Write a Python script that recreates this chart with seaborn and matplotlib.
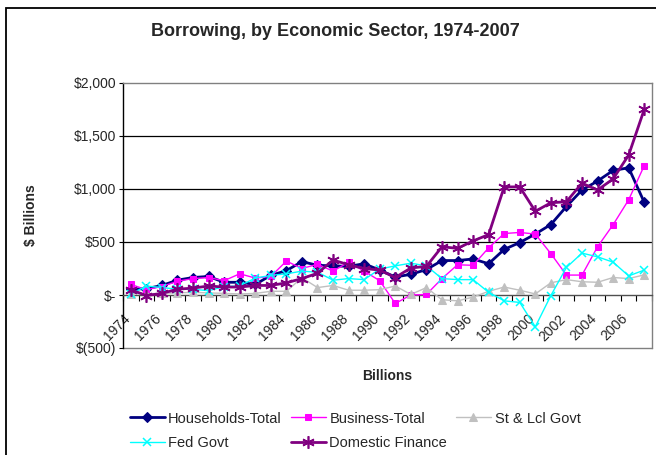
import numpy as np
import matplotlib
matplotlib.use("Agg")
import matplotlib.pyplot as plt
import matplotlib.transforms as mtransforms
from matplotlib.patches import Rectangle
from matplotlib.ticker import FuncFormatter
import seaborn as sns

# Net borrowing by sector, $ billions, 1974-2007
years = list(range(1974, 2008))
households = [55, 60, 90, 140, 165, 175, 120, 120, 100, 185,
              230, 315, 280, 275, 270, 295, 235, 170, 195, 240,
              325, 325, 340, 295, 430, 495, 575, 665, 835, 990,
              1075, 1175, 1200, 875]
business = [100, 50, 80, 130, 155, 165, 135, 200, 160, 175,
            320, 250, 290, 225, 310, 225, 135, -80, 0, 5,
            155, 285, 280, 445, 580, 590, 575, 390, 188, 188,
            455, 663, 898, 1220]
state_local = [12, 12, 15, 20, 25, 20, 15, 10, 15, 35,
               35, 163, 70, 90, 45, 45, 50, 85, 5, 70,
               -45, -55, -20, 35, 75, 45, 10, 115, 145, 125,
               120, 165, 155, 190]
federal = [10, 85, 70, 55, 55, 40, 80, 85, 160, 185,
           200, 225, 215, 140, 155, 145, 245, 275, 300, 275,
           155, 145, 145, 25, -55, -70, -300, -5, 260, 395,
           360, 310, 180, 235]
dom_finance = [50, -5, 15, 55, 65, 85, 75, 75, 90, 90,
               115, 155, 205, 330, 285, 250, 235, 165, 255, 270,
               455, 440, 510, 570, 1020, 1020, 790, 870, 880, 1055,
               990, 1095, 1320, 1750]

y_ticks = [-500, 0, 500, 1000, 1500, 2000]
grid_levels = [500, 1000, 1500]

sns.set_style("white")
plt.rcParams["font.family"] = ["Liberation Sans", "DejaVu Sans"]

fig = plt.figure(figsize=(6.56, 4.55), dpi=100)
fig.patch.set_facecolor("white")
ax = fig.add_axes([123 / 656, 1 - 348 / 455, 529 / 656, 265 / 455])

pos = np.arange(len(years))

for lvl in grid_levels:
    ax.axhline(lvl, color="black", lw=0.9, zorder=0.5)

series = [
    ("Households-Total", households, dict(color="#000080", marker="D", markersize=5.5, lw=2.0)),
    ("Business-Total", business, dict(color="#FF00FF", marker="s", markersize=5, lw=1.0)),
    ("St & Lcl Govt", state_local, dict(color="#C0C0C0", marker="^", markersize=6, lw=1.0)),
    ("Fed Govt", federal, dict(color="#00FFFF", marker="x", markersize=6, markeredgewidth=1.1, lw=1.0)),
    ("Domestic Finance", dom_finance, dict(color="#800080", marker=(6, 2, 0), markersize=9,
                                           markeredgewidth=1.2, lw=2.0)),
]

handles = {}
for name, vals, style in series:
    sns.lineplot(x=pos, y=vals, ax=ax, label=name, markeredgecolor=style["color"],
                 legend=False, zorder=3, clip_on=False, **style)
    handles[name] = ax.get_lines()[-1]

ax.set_xlim(-0.5, len(years) - 0.5)
ax.set_ylim(-500, 2000)
ax.set_yticks(y_ticks)


def money(v, _):
    v = int(round(v))
    if v == 0:
        return "$-"
    if v < 0:
        return "$({:,})".format(-v)
    return "${:,}".format(v)


ax.yaxis.set_major_formatter(FuncFormatter(money))
ax.tick_params(axis="y", direction="out", length=3, width=0.8, pad=2, labelsize=10,
               color="black", left=True)

# Category axis crossing at zero: ticks between categories, labels every other year
ax.spines["bottom"].set_position(("data", 0))
ax.spines["bottom"].set_color("#505050")
ax.spines["bottom"].set_linewidth(1.0)
ax.set_xticks(np.arange(-0.5, len(years), 1))
ax.set_xticklabels([])
ax.set_xticks(pos[::2], minor=True)
ax.set_xticklabels([str(y) for y in years[::2]], minor=True)
ax.tick_params(axis="x", which="major", direction="out", length=4, width=0.8,
               color="black", bottom=True)
ax.tick_params(axis="x", which="minor", length=0, pad=12, labelsize=10, bottom=True)
shift = mtransforms.ScaledTranslation(-8 / 100, 0, fig.dpi_scale_trans)
for lab in ax.get_xticklabels(minor=True):
    lab.set_rotation(45)
    lab.set_ha("right")
    lab.set_va("top")
    lab.set_rotation_mode("anchor")
    lab.set_transform(lab.get_transform() + shift)

for side in ("top", "right"):
    ax.spines[side].set_color("#808080")
    ax.spines[side].set_linewidth(1.0)
ax.spines["left"].set_color("black")
ax.spines["left"].set_linewidth(1.0)
ax.plot([0, 1], [0, 0], transform=ax.transAxes, color="#808080", lw=1.0, clip_on=False)

ax.set_xlabel("Billions", fontsize=10, fontweight="bold")
ax.xaxis.set_label_coords(0.5, (348 - 369) / 265)
ax.set_ylabel("$ Billions", fontsize=10, fontweight="bold")
ax.yaxis.set_label_coords((38 - 123) / 529, 0.5)

fig.text(335 / 656, 1 - 32 / 455, "Borrowing, by Economic Sector, 1974-2007",
         ha="center", va="center", fontsize=13, fontweight="bold")

order = ["Households-Total", "Fed Govt", "Business-Total", "Domestic Finance", "St & Lcl Govt"]
fig.legend([handles[n] for n in order], order, loc="center",
           bbox_to_anchor=(355 / 656, 1 - 431 / 455), ncol=3, frameon=False,
           fontsize=10.5, handlelength=2.4, handletextpad=0.25, columnspacing=0.6,
           labelspacing=0.75, borderpad=0)

# Chart-area frame
fig.add_artist(Rectangle((6 / 656, -0.5), 2, 0.5 + 1 - 8 / 455, transform=fig.transFigure,
                         fill=False, edgecolor="black", lw=1.3))

fig.savefig("out.png", dpi=100, facecolor="white")
